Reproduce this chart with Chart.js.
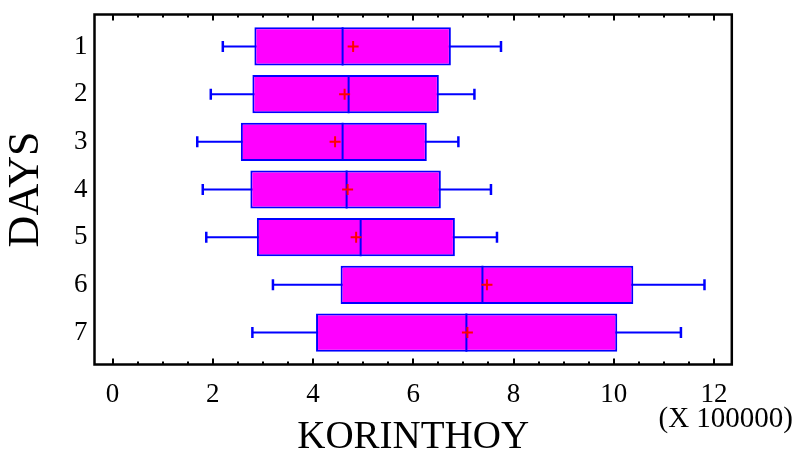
<!DOCTYPE html>
<html>
<head>
<meta charset="utf-8">
<script src="https://cdn.jsdelivr.net/npm/chart.js@4.4.0/dist/chart.umd.min.js"></script>
<style>
  html, body { margin: 0; padding: 0; background: #fff; }
  #cadre-graphique { width: 799px; height: 453px; }
</style>
</head>
<body>
<div id="cadre-graphique"><canvas id="graphique-boites"></canvas></div>
<script>
// Days (vertical axis)
const days = [1, 2, 3, 4, 5, 6, 7];

// KORINTHOY values, in units of 100000
const whiskerLow  = [2.20, 1.96, 1.69, 1.80, 1.87, 3.20, 2.79];
const q1          = [2.83, 2.79, 2.56, 2.75, 2.88, 4.55, 4.06];
const median      = [4.59, 4.71, 4.59, 4.67, 4.95, 7.38, 7.06];
const mean        = [4.80, 4.63, 4.44, 4.69, 4.86, 7.47, 7.08];
const q3          = [6.75, 6.51, 6.27, 6.55, 6.83, 10.39, 10.07];
const whiskerHigh = [7.75, 7.22, 6.90, 7.55, 7.67, 11.81, 11.34];

// x axis tick labels
const xTicks = [0, 2, 4, 6, 8, 10, 12];
const xMinorStep = 0.5;

// half the box height, in day units (bars are 0.8 of a day)
const BOX_HALF = 0.4;

Chart.defaults.font.family = "'Liberation Serif', 'Times New Roman', serif";
Chart.defaults.color = "#000";

// whiskers: one segment per day, broken by a null point
const whiskerPoints = [];
const medianPoints = [];
for (let i = 0; i < days.length; i++) {
  whiskerPoints.push({ x: whiskerLow[i], y: days[i] }, { x: whiskerHigh[i], y: days[i] }, { x: null, y: days[i] });
  medianPoints.push({ x: median[i], y: days[i] - BOX_HALF }, { x: median[i], y: days[i] + BOX_HALF }, { x: null, y: days[i] });
}

// no extra room for the labels at the ends of the axes
function sansMarges(scale) {
  scale.paddingTop = 0;
  scale.paddingBottom = 0;
  scale.paddingLeft = 0;
  scale.paddingRight = 0;
}

// frame, inward ticks and the multiplier text
const cadre = {
  id: "cadre",
  afterDatasetsDraw(chart) {
    const { ctx, chartArea: a, scales } = chart;
    ctx.save();
    ctx.strokeStyle = "#000";
    ctx.lineWidth = 2;
    const last = xTicks[xTicks.length - 1];
    for (let v = xTicks[0]; v <= last; v += xMinorStep) {
      const px = Math.round(scales.x.getPixelForValue(v));
      const len = xTicks.includes(v) ? 6 : 3;
      ctx.beginPath();
      ctx.moveTo(px, a.top);
      ctx.lineTo(px, a.top + len);
      ctx.moveTo(px, a.bottom);
      ctx.lineTo(px, a.bottom - len);
      ctx.stroke();
    }
    ctx.lineWidth = 2.5;
    ctx.strokeRect(a.left, a.top, a.right - a.left, a.bottom - a.top);

    ctx.font = "29px 'Liberation Serif', serif";
    ctx.fillStyle = "#000";
    ctx.textAlign = "right";
    ctx.textBaseline = "alphabetic";
    ctx.fillText("(X 100000)", chart.width - 6, 426.5);
    ctx.restore();
  }
};

const config = {
  type: "bar",
  data: {
    datasets: [
      {
        type: "line",
        label: "Mean",
        data: days.map((d, i) => ({ x: mean[i], y: d })),
        showLine: false,
        pointStyle: "cross",
        pointRadius: 5.5,
        pointBorderColor: "#ff0000",
        pointBorderWidth: 2,
        order: 0,
      },
      {
        type: "line",
        label: "Median",
        data: medianPoints,
        borderColor: "#0000ff",
        borderWidth: 2,
        pointRadius: 0,
        order: 1,
      },
      {
        type: "bar",
        label: "Box",
        data: days.map((d, i) => ({ x: [q1[i], q3[i]], y: d })),
        backgroundColor: "#ff00ff",
        borderColor: "#0000ff",
        borderWidth: 2,
        borderSkipped: false,
        categoryPercentage: 1,
        barPercentage: 0.8,
        order: 2,
      },
      {
        type: "line",
        label: "Whiskers",
        data: whiskerPoints,
        borderColor: "#0000ff",
        borderWidth: 2,
        pointStyle: "line",
        pointRotation: 90,
        pointRadius: 5.5,
        pointBorderColor: "#0000ff",
        pointBorderWidth: 2.5,
        order: 3,
      },
    ],
  },
  options: {
    indexAxis: "y",
    responsive: true,
    maintainAspectRatio: false,
    animation: false,
    events: [],
    layout: { padding: { top: 14.5, right: 67.2, bottom: 0, left: 0 } },
    plugins: {
      legend: { display: false },
      tooltip: { enabled: false },
    },
    scales: {
      x: {
        type: "linear",
        position: "bottom",
        offset: false,
        min: -0.36,
        max: 12.355,
        grid: { display: false, drawTicks: false },
        border: { display: false },
        ticks: { font: { size: 27 }, padding: 14 },
        afterBuildTicks: (scale) => { scale.ticks = xTicks.map(v => ({ value: v })); },
        afterFit: (scale) => { scale.height = 88.5; sansMarges(scale); },
        title: {
          display: true,
          text: "KORINTHOY",
          font: { size: 39 },
          padding: { top: 0, bottom: -8 },
        },
      },
      y: {
        type: "linear",
        position: "left",
        reverse: true,
        offset: false,
        min: 0.33,
        max: 7.67,
        grid: { display: false, drawTicks: false },
        border: { display: false },
        ticks: { font: { size: 27 }, padding: 7 },
        afterBuildTicks: (scale) => { scale.ticks = days.map(v => ({ value: v })); },
        afterFit: (scale) => { scale.width = 94.5; sansMarges(scale); },
        title: {
          display: true,
          text: "DAYS",
          font: { size: 44 },
          padding: { top: 0, bottom: 0 },
        },
      },
    },
  },
  plugins: [cadre],
};

new Chart(document.querySelector("#graphique-boites"), config);
</script>
</body>
</html>
